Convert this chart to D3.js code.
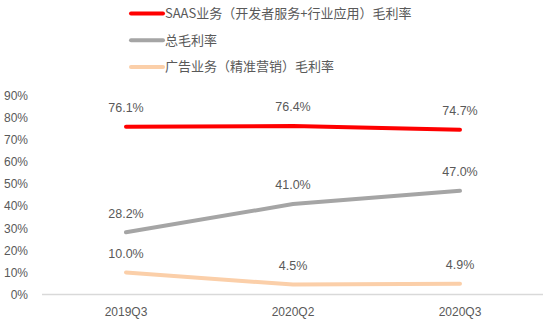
<!DOCTYPE html>
<html>
<head>
<meta charset="utf-8">
<script src="https://cdn.jsdelivr.net/npm/d3@7"></script>
<style>
  html, body { margin: 0; padding: 0; background: #fff; }
  svg { display: block; font-family: "Noto Sans CJK SC", "Liberation Sans", sans-serif; }
</style>
</head>
<body>
<svg id="chart" width="550" height="328"></svg>
<script>
// Quarters on the x axis
const categories = ["2019Q3", "2020Q2", "2020Q3"];
// Gross margin series (%)
const saasValues = [76.1, 76.4, 74.7];
const totalValues = [28.2, 41.0, 47.0];
const adValues = [10.0, 4.5, 4.9];
// Y axis ticks (%)
const yTicks = [0, 10, 20, 30, 40, 50, 60, 70, 80, 90];
const seriesNames = ["SAAS业务（开发者服务+行业应用）毛利率", "总毛利率", "广告业务（精准营销）毛利率"];

const series = [
  { name: seriesNames[0], values: saasValues, color: "#FF0000" },
  { name: seriesNames[1], values: totalValues, color: "#A5A5A5" },
  { name: seriesNames[2], values: adValues, color: "#FBCFA9" }
];

const svg = d3.select("#chart");
const textColor = "#595959";

const x = d3.scalePoint().domain(categories).range([126, 460]);
const y = d3.scaleLinear().domain([0, 90]).range([294.5, 96]);

// Y axis labels (no line)
svg.append("g").selectAll("text").data(yTicks).join("text")
  .attr("x", 28).attr("y", d => y(d)).attr("dy", "0.35em")
  .attr("text-anchor", "end").attr("font-size", 12).attr("fill", textColor)
  .attr("font-family", "Liberation Sans, sans-serif")
  .text(d => d + "%");

// Baseline
svg.append("line")
  .attr("x1", 42).attr("x2", 543).attr("y1", y(0)).attr("y2", y(0))
  .attr("stroke", "#D9D9D9").attr("stroke-width", 1.3);

// X axis labels
svg.append("g").selectAll("text").data(categories).join("text")
  .attr("x", d => x(d)).attr("y", 312).attr("dy", "0.35em")
  .attr("text-anchor", "middle").attr("font-size", 12).attr("fill", textColor)
  .attr("font-family", "Liberation Sans, sans-serif")
  .text(d => d);

// Lines
const line = d3.line().x((d, i) => x(categories[i])).y(d => y(d));
series.forEach(s => {
  svg.append("path").datum(s.values)
    .attr("d", line).attr("fill", "none")
    .attr("stroke", s.color).attr("stroke-width", 4)
    .attr("stroke-linecap", "round").attr("stroke-linejoin", "round");
});

// Data labels
series.forEach(s => {
  svg.append("g").selectAll("text").data(s.values).join("text")
    .attr("x", (d, i) => x(categories[i])).attr("y", d => y(d) - 19).attr("dy", "0.35em")
    .attr("text-anchor", "middle").attr("font-size", 12.5).attr("fill", textColor)
    .attr("font-family", "Liberation Sans, sans-serif")
    .text(d => d.toFixed(1) + "%");
});

// Legend
const legend = svg.append("g").selectAll("g").data(series).join("g")
  .attr("transform", (d, i) => `translate(130, ${13.5 + i * 26.7})`);
legend.append("line")
  .attr("x1", 1).attr("x2", 33).attr("y1", 0).attr("y2", 0)
  .attr("stroke", d => d.color).attr("stroke-width", 4).attr("stroke-linecap", "round");
legend.append("text")
  .attr("x", 35).attr("y", 0).attr("dy", "0.35em")
  .attr("font-size", 13).attr("fill", textColor)
  .text(d => d.name);
</script>
</body>
</html>
